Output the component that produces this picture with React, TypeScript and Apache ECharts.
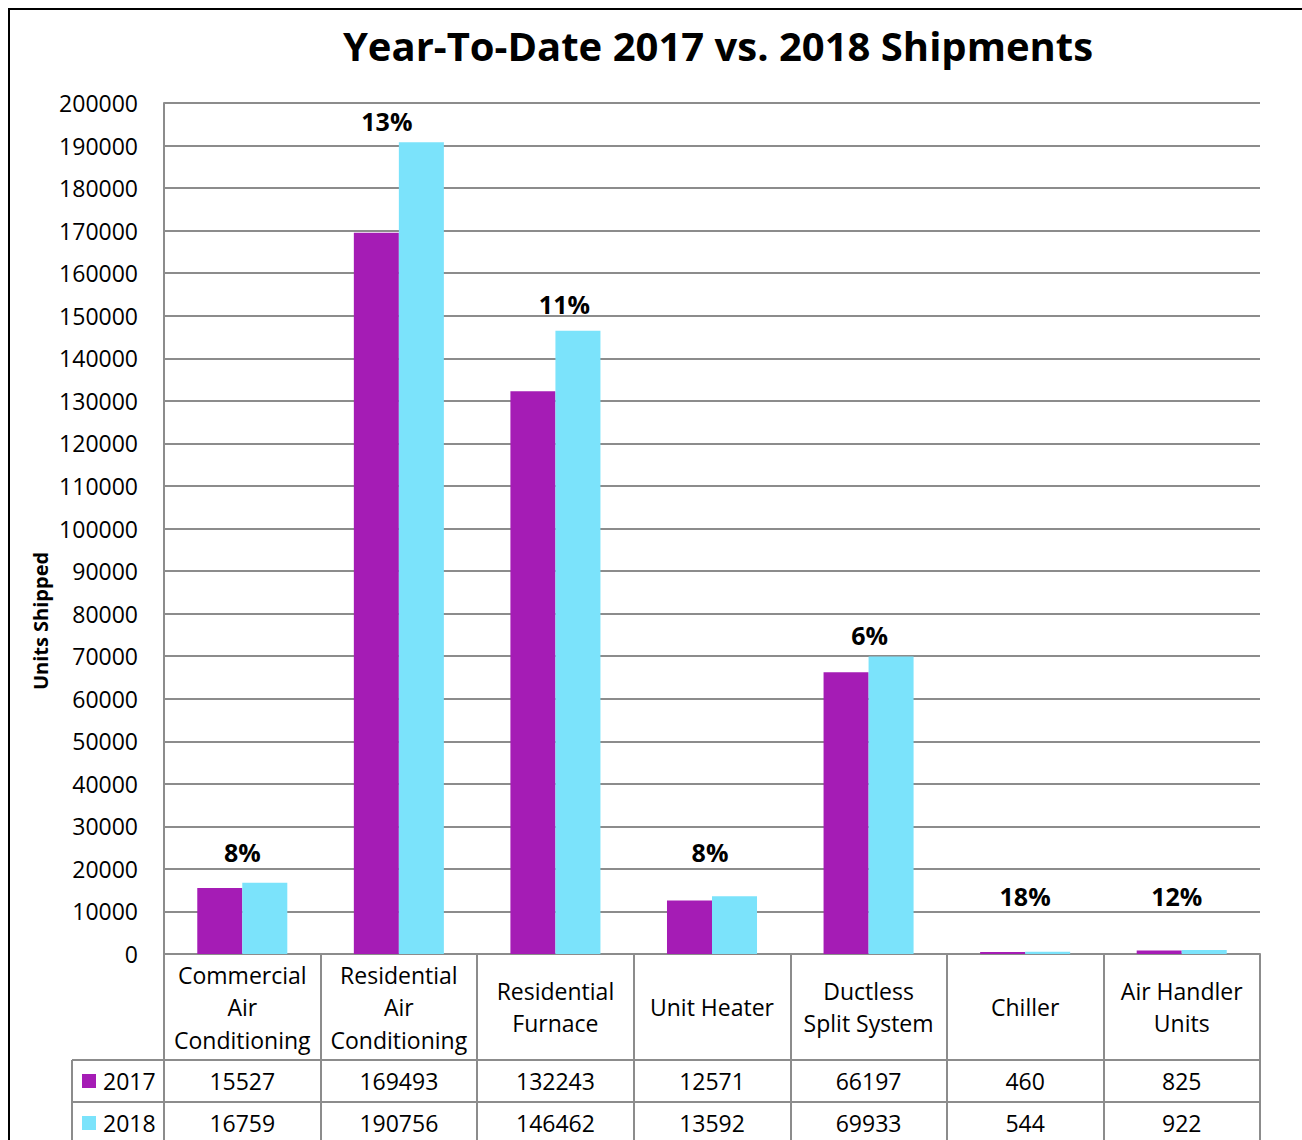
import React, { useEffect, useRef } from "react";
import * as echarts from "echarts";

const categories = [
  "Commercial\nAir\nConditioning",
  "Residential\nAir\nConditioning",
  "Residential\nFurnace",
  "Unit Heater",
  "Ductless\nSplit System",
  "Chiller",
  "Air Handler\nUnits",
];
const seriesNames = ["2017", "2018"];
const values2017 = [15527, 169493, 132243, 12571, 66197, 460, 825];
const values2018 = [16759, 190756, 146462, 13592, 69933, 544, 922];
const yTicks = { min: 0, max: 200000, interval: 10000 };
const titleText = "Year-To-Date 2017 vs. 2018 Shipments";
const yAxisTitle = "Units Shipped";

// manual nudges (px) of the percent labels, as placed in the reference
const labelLift = [-9, 0, -5, -23, 0, -34, -33];
const labelShift = [0, -12, 9, -2, 1, 0, -5];

const PURPLE = "#A51CB5";
const CYAN = "#7BE3FB";
const GRAY = "#8C8C8C";
const FONT = "'Open Sans', 'Noto Sans', sans-serif";

export default function App() {
  const ref = useRef<HTMLDivElement>(null);
  useEffect(() => {
    if (!ref.current) return;
    const chart = echarts.init(ref.current, null, { renderer: "svg" });
    const W = 1294;
    const H = 1132;
    const gridLeft = 156;
    const gridRight = 42;
    const gridTop = 95;
    const gridBottom = 186;
    const plotW = W - gridLeft - gridRight;
    const catW = plotW / categories.length;
    const gapRatio = 0.425;
    const barW = (catW * (1 - gapRatio)) / 2;
    const axisY = H - gridBottom;

    const pct = values2018.map((v, i) =>
      Math.round(((v - values2017[i]) / values2017[i]) * 100)
    );

    const option: any = {
      animation: false,
      textStyle: { fontFamily: FONT, color: "#000" },
      grid: {
        left: gridLeft,
        right: gridRight,
        top: gridTop,
        bottom: gridBottom,
        containLabel: false,
      },
      legend: {
        data: seriesNames,
        orient: "vertical",
        left: 74,
        top: axisY + 106 + 9,
        itemWidth: 14,
        itemHeight: 14,
        itemGap: 18,
        icon: "rect",
        padding: 0,
        selectedMode: false,
        textStyle: { fontSize: 23, lineHeight: 24, color: "#000", fontFamily: FONT, padding: [0, 0, 0, 2] },
      },
      xAxis: [
        {
          type: "category",
          data: categories,
          position: "bottom",
          axisLine: { show: true, lineStyle: { color: GRAY, width: 2 } },
          axisTick: {
            show: true,
            interval: 0,
            alignWithLabel: false,
            length: 200,
            lineStyle: { color: GRAY, width: 2 },
          },
          axisLabel: {
            interval: 0,
            fontSize: 23,
            lineHeight: 32.5,
            verticalAlign: "middle",
            margin: 53,
            color: "#000",
            fontFamily: FONT,
          },
        },
        {
          type: "category",
          data: categories,
          position: "bottom",
          offset: 106,
          axisLine: { show: true, lineStyle: { color: GRAY, width: 2 } },
          axisTick: { show: false },
          axisLabel: {
            interval: 0,
            fontSize: 23,
            verticalAlign: "middle",
            margin: 21,
            color: "#000",
            fontFamily: FONT,
            formatter: (_v: string, i: number) => String(values2017[i]),
          },
        },
        {
          type: "category",
          data: categories,
          position: "bottom",
          offset: 148,
          axisLine: { show: true, lineStyle: { color: GRAY, width: 2 } },
          axisTick: { show: false },
          axisLabel: {
            interval: 0,
            fontSize: 23,
            verticalAlign: "middle",
            margin: 21,
            color: "#000",
            fontFamily: FONT,
            formatter: (_v: string, i: number) => String(values2018[i]),
          },
        },
      ],
      yAxis: {
        type: "value",
        min: yTicks.min,
        max: yTicks.max,
        interval: yTicks.interval,
        axisLine: { show: true, lineStyle: { color: GRAY, width: 2 } },
        axisTick: { show: false },
        splitLine: { show: true, lineStyle: { color: GRAY, width: 2 } },
        axisLabel: {
          fontSize: 23,
          margin: 26,
          color: "#000",
          fontFamily: FONT,
          formatter: (v: number) => String(v),
        },
      },
      series: [
        {
          name: seriesNames[0],
          type: "bar",
          data: values2017,
          itemStyle: { color: PURPLE },
          barGap: "0%",
          barCategoryGap: gapRatio * 100 + "%",
        },
        {
          name: seriesNames[1],
          type: "bar",
          data: values2018.map((v, i) => ({
            value: v,
            label: { offset: [-barW / 2 + labelShift[i], labelLift[i]] },
          })),
          itemStyle: { color: CYAN },
          barGap: "0%",
          barCategoryGap: gapRatio * 100 + "%",
          label: {
            show: true,
            position: "top",
            distance: 9,
            fontSize: 25,
            fontWeight: "bold",
            color: "#000",
            fontFamily: FONT,
            formatter: (p: any) => pct[p.dataIndex] + "%",
          },
        },
      ],
      graphic: [
        {
          type: "rect",
          shape: { x: 1, y: 1, width: 1500, height: 1500 },
          style: { fill: "none", stroke: "#000", lineWidth: 2 },
          silent: true,
        },
        {
          type: "text",
          x: gridLeft + plotW / 2 + 6,
          y: 37,
          style: {
            text: titleText,
            font: "bold 40px " + FONT,
            fill: "#000",
            align: "center",
            verticalAlign: "middle",
          },
        },
        {
          type: "text",
          x: 32,
          y: 613,
          rotation: Math.PI / 2,
          style: {
            text: yAxisTitle,
            font: "bold 20px " + FONT,
            fill: "#000",
            align: "center",
            verticalAlign: "middle",
          },
        },
        {
          type: "line",
          shape: { x1: 64, y1: axisY + 106, x2: gridLeft, y2: axisY + 106 },
          style: { stroke: GRAY, lineWidth: 2 },
        },
        {
          type: "line",
          shape: { x1: 64, y1: axisY + 148, x2: gridLeft, y2: axisY + 148 },
          style: { stroke: GRAY, lineWidth: 2 },
        },
        {
          type: "line",
          shape: { x1: 64, y1: axisY + 106, x2: 64, y2: H + 20 },
          style: { stroke: GRAY, lineWidth: 2 },
        },
      ],
    };
    chart.setOption(option);
    return () => chart.dispose();
  }, []);
  return (
    <div
      ref={ref}
      style={{ position: "fixed", left: 8, top: 8, width: 1294, height: 1132, background: "#fff" }}
    />
  );
}
